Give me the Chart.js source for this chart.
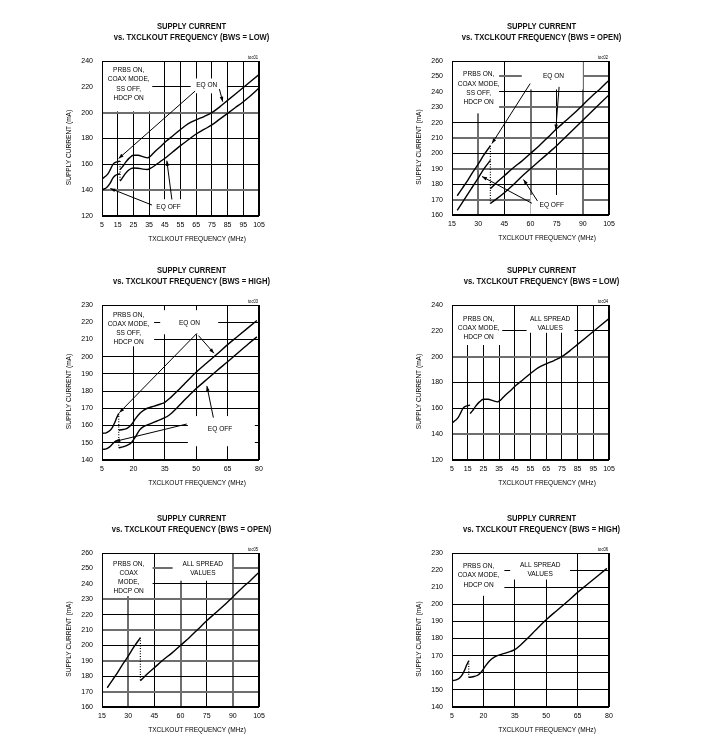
<!DOCTYPE html>
<html><head><meta charset="utf-8">
<script src="https://cdn.jsdelivr.net/npm/chart.js@4.4.0/dist/chart.umd.min.js"></script>
<style>
html,body{margin:0;padding:0;background:#fff;width:713px;height:754px;overflow:hidden;position:relative}
canvas{position:absolute}
</style></head><body>
<script>
// ---------- tick labels ----------
const xTicksLow  = [5, 15, 25, 35, 45, 55, 65, 75, 85, 95, 105];
const yTicksLow  = [120, 140, 160, 180, 200, 220, 240];
const xTicksOpen = [15, 30, 45, 60, 75, 90, 105];
const yTicksOpen = [160, 170, 180, 190, 200, 210, 220, 230, 240, 250, 260];
const xTicksHigh = [5, 20, 35, 50, 65, 80];
const yTicksHigh = [140, 150, 160, 170, 180, 190, 200, 210, 220, 230];

// ---------- BWS = LOW ----------
const lowOnX1  = [5.5, 7, 9, 10.5, 12, 13.5, 15, 16.5];
const lowOnY1  = [149, 150.5, 153, 156.5, 160, 161.5, 162, 162.5];
const lowOnX2  = [16.5, 18, 20, 22.5, 25, 28, 31, 34, 36, 38, 42, 46, 50, 55, 60, 65, 70, 75, 80, 85, 90, 95, 100, 105];
const lowOnY2  = [156, 158, 161.5, 165, 167, 167, 166, 165, 166.5, 169, 173.5, 178, 182, 187, 191.5, 194.5, 197, 200, 204.5, 209.5, 214.5, 219.5, 224.5, 229.5];
const lowOffX1 = [5.5, 8, 10, 12, 13.5, 15, 16.5];
const lowOffY1 = [140.5, 142, 145, 149.5, 151.5, 152.2, 152.6];
const lowOffX2 = [16.5, 18, 20, 22.5, 25, 28, 31, 34, 36, 38, 42, 46, 50, 55, 60, 65, 70, 75, 80, 85, 90, 95, 100, 105];
const lowOffY2 = [147, 149.5, 153, 156, 157.2, 157, 156.3, 156, 157, 158.5, 162, 165.5, 169.5, 174.5, 179, 183.5, 187, 190.5, 195, 199.5, 204, 208.5, 213.5, 219];

// ---------- BWS = OPEN ----------
const openOnX1  = [18, 21, 24, 27, 30, 33, 37];
const openOnY1  = [172.5, 177.5, 182.5, 188, 193, 198.5, 205];
const openOnX2  = [37, 40, 45, 50, 55, 60, 65, 70, 75, 80, 85, 90, 95, 100, 105];
const openOnY2  = [177, 180.5, 185.5, 190.5, 195, 200, 205, 210.5, 216, 221, 226, 231.5, 237, 242, 247.5];
const openOffX1 = [18, 22, 26, 30, 33, 37];
const openOffY1 = [163, 170, 177, 184, 189.5, 195.5];
const openOffX2 = [37, 40, 45, 50, 55, 60, 65, 70, 75, 80, 85, 90, 95, 100, 105];
const openOffY2 = [167.5, 170, 174.5, 179.5, 185, 190, 195, 200, 205, 210.5, 216, 221.5, 227, 232.5, 238];

// ---------- BWS = HIGH ----------
const highOnX1  = [5.5, 7, 8.5, 10, 11, 12, 13];
const highOnY1  = [155.5, 155.8, 156.8, 159, 161.5, 164.5, 167];
const highOnX2  = [13, 15, 17, 19, 21, 23, 25, 27, 30, 33, 35, 38, 41, 45, 50, 55, 60, 65, 70, 75, 79];
const highOnY2  = [157.3, 157.7, 158.4, 160.5, 164, 167, 169, 170.2, 171.3, 172.5, 173.5, 176.5, 180, 185, 191, 196.3, 201.5, 207, 212, 217, 221];
const highOffX1 = [5.5, 7, 8.5, 10, 11.5, 12.8];
const highOffY1 = [146.2, 146.5, 147.5, 149.3, 151, 151.6];
const highOffX2 = [13, 15, 17, 19, 21, 23, 25, 28, 31, 34, 37, 41, 45, 50, 55, 60, 65, 70, 75, 79];
const highOffY2 = [147.1, 147.6, 148.5, 150, 153.5, 157.5, 159.5, 161, 162.5, 164, 166, 170.5, 175.5, 181.5, 186.7, 192, 197, 202.3, 207.5, 211.5];

// ---------- text ----------
const title1 = 'SUPPLY CURRENT';
const xTitle = 'TXCLKOUT FREQUENCY (MHz)';
const yTitle = 'SUPPLY CURRENT (mA)';
const condEq = ['PRBS ON,', 'COAX MODE,', 'SS OFF,', 'HDCP ON'];
const condAll = ['PRBS ON,', 'COAX MODE,', 'HDCP ON'];
const condAllOpen = ['PRBS ON,', 'COAX', 'MODE,', 'HDCP ON'];
const spreadTxt = ['ALL SPREAD', 'VALUES'];

// ---------- font: use a narrow face if installed, else condense Liberation Sans ----------
function detectNarrow() {
  const c = document.createElement('canvas').getContext('2d');
  const s = 'COAX MODE, FREQUENCY 0123';
  c.font = '20px monospace'; const mono = c.measureText(s).width;
  for (const f of ['Liberation Sans Narrow', 'Arial Narrow']) {
    c.font = '20px "' + f + '", monospace';
    if (Math.abs(c.measureText(s).width - mono) > 0.5) return f;
  }
  return null;
}
const NARROW = detectNarrow();
const FONT = NARROW ? '"' + NARROW + '",sans-serif' : '"Liberation Sans",Arial,sans-serif';
const SX = NARROW ? 1 : 0.82;
const TICK_SIZE = NARROW ? 7.5 : 7;

const pts = (xs, ys) => xs.map((x, i) => ({x, y: ys[i]}));
const last = a => a[a.length - 1];
function lineDs(xs, ys) {
  return {data: pts(xs, ys), borderColor: '#000', borderWidth: 1.4, pointRadius: 0,
          showLine: true, cubicInterpolationMode: 'monotone', fill: false};
}
function dotDs(x, y0, y1) {
  return {data: [{x, y: y0}, {x, y: y1}], borderColor: '#000', borderWidth: 1.2,
          borderDash: [1, 1.6], pointRadius: 0, showLine: true, fill: false};
}

function txt(ctx, s, x, y, align, rot) {
  ctx.save();
  ctx.translate(x, y);
  if (rot) ctx.rotate(rot);
  ctx.scale(SX, 1);
  ctx.textAlign = align || 'center';
  ctx.fillText(s, 0, 0);
  ctx.restore();
}

function drawArrow(ctx, x0, y0, x1, y1) {
  ctx.beginPath(); ctx.moveTo(x0, y0); ctx.lineTo(x1, y1); ctx.stroke();
  const a = Math.atan2(y1 - y0, x1 - x0), L = 5, w = 1.8;
  ctx.beginPath(); ctx.moveTo(x1, y1);
  ctx.lineTo(x1 - L * Math.cos(a) + w * Math.sin(a), y1 - L * Math.sin(a) - w * Math.cos(a));
  ctx.lineTo(x1 - L * Math.cos(a) - w * Math.sin(a), y1 - L * Math.sin(a) + w * Math.cos(a));
  ctx.closePath(); ctx.fill();
}

function makeDecor(p) {
  return {
    id: 'decor',
    beforeDatasetsDraw(chart) {
      const {ctx, chartArea: a, scales: {x, y}} = chart;
      ctx.save();
      ctx.beginPath(); ctx.rect(a.left, a.top, a.width, a.height); ctx.clip();
      ctx.fillStyle = '#fff';
      for (const b of p.boxes) {
        const x0 = x.getPixelForValue(b[0]), x1 = x.getPixelForValue(b[1]);
        const y0 = y.getPixelForValue(b[2]), y1 = y.getPixelForValue(b[3]);
        ctx.fillRect(Math.min(x0, x1), Math.min(y0, y1), Math.abs(x1 - x0), Math.abs(y1 - y0));
      }
      ctx.restore();
      ctx.save();
      ctx.strokeStyle = '#000'; ctx.lineWidth = 1;
      ctx.strokeRect(a.left + 0.5, a.top + 0.5, a.width - 1, a.height - 1);
      ctx.restore();
    },
    afterDatasetsDraw(chart) {
      const {ctx, chartArea: a, scales: {x, y}} = chart;
      ctx.save();
      ctx.fillStyle = '#000'; ctx.strokeStyle = '#000'; ctx.lineWidth = 1;
      for (const r of p.arrows) {
        drawArrow(ctx, x.getPixelForValue(r[0]), y.getPixelForValue(r[1]),
                       x.getPixelForValue(r[2]), y.getPixelForValue(r[3]));
      }
      ctx.textBaseline = 'middle';
      ctx.font = '8px ' + FONT;
      for (const t of p.texts) {
        const cx = x.getPixelForValue(t.x), cy = y.getPixelForValue(t.y);
        t.lines.forEach((s, i) => txt(ctx, s, cx, cy + i * 9.2));
      }
      // titles
      const tx = a.left + 89.5;
      ctx.font = 'bold 9.3px ' + FONT; ctx.fillStyle = '#111';
      txt(ctx, title1, tx, a.top - 35);
      txt(ctx, p.title, tx, a.top - 23.5);
      ctx.fillStyle = '#000';
      ctx.font = '8px ' + FONT;
      txt(ctx, xTitle, a.left + 95, a.bottom + 22.5);
      txt(ctx, yTitle, a.left - 33.5, (a.top + a.bottom) / 2 + 9, 'center', -Math.PI / 2);
      ctx.font = '5px ' + FONT; ctx.textBaseline = 'alphabetic';
      txt(ctx, p.toc, a.right - 1, a.top - 2, 'right');
      ctx.restore();
    }
  };
}

function build(p) {
  const [pl, pt, pr, pb] = p.area;
  const W = (pr - pl) + 80, H = (pb - pt) + 80;
  const cv = document.createElement('canvas');
  cv.width = W; cv.height = H;
  cv.style.left = (pl - 50) + 'px'; cv.style.top = (pt - 45) + 'px';
  cv.style.width = W + 'px'; cv.style.height = H + 'px';
  document.body.appendChild(cv);
  const gx = p.grayX || [], gy = p.grayY || [];
  const tickFont = {family: FONT, size: TICK_SIZE};
  new Chart(cv, {
    type: 'scatter',
    data: {datasets: p.datasets},
    options: {
      responsive: false, animation: false,
      layout: {padding: {left: 0, right: 30, top: 45, bottom: 0}},
      plugins: {legend: {display: false}, tooltip: {enabled: false}},
      scales: {
        x: {type: 'linear', min: p.xTicks[0], max: last(p.xTicks),
            afterBuildTicks: s => { s.ticks = p.xTicks.map(v => ({value: v})); },
            afterFit: s => { s.height = 35; },
            ticks: {autoSkip: false, maxRotation: 0, padding: 5, color: '#000', font: tickFont},
            grid: {drawTicks: false,
                   color: c => (c.tick && gx.includes(c.tick.value)) ? '#6e6e6e' : '#000',
                   lineWidth: c => (c.tick && gx.includes(c.tick.value)) ? 2 : 1},
            border: {display: false}},
        y: {type: 'linear', min: p.yTicks[0], max: last(p.yTicks),
            afterBuildTicks: s => { s.ticks = p.yTicks.map(v => ({value: v})); },
            afterFit: s => { s.width = 50; },
            ticks: {autoSkip: false, padding: 9, color: '#000', font: tickFont},
            grid: {drawTicks: false,
                   color: c => (c.tick && gy.includes(c.tick.value)) ? '#6e6e6e' : '#000',
                   lineWidth: c => (c.tick && gy.includes(c.tick.value)) ? 2 : 1},
            border: {display: false}}
      }
    },
    plugins: [makeDecor(p)]
  });
}

// Plot 1: BWS = LOW, EQ on/off
build({
  area: [102, 61, 259, 216], xTicks: xTicksLow, yTicks: yTicksLow, grayY: [140, 200],
  title: 'vs. TXCLKOUT FREQUENCY (BWS = LOW)', toc: 'toc01',
  datasets: [lineDs(lowOnX1, lowOnY1), lineDs(lowOnX2, lowOnY2),
             lineDs(lowOffX1, lowOffY1), lineDs(lowOffX2, lowOffY2),
             dotDs(lowOnX2[0], last(lowOnY1), lowOffY2[0])],
  boxes: [[5, 37, 240, 201], [61.5, 84.5, 226.5, 215], [36, 60, 133, 120]],
  texts: [{x: 22, y: 233, lines: condEq}, {x: 71.7, y: 221.8, lines: ['EQ ON']}, {x: 47.4, y: 126.9, lines: ['EQ OFF']}],
  arrows: [[64.3, 216.7, 15.6, 164.5], [79.8, 218.2, 81.9, 208.5], [36.8, 128.5, 10.3, 141.3], [49.5, 132.8, 46.3, 162.8]]
});

// Plot 2: BWS = OPEN, EQ on/off
build({
  area: [452, 61, 609, 215], xTicks: xTicksOpen, yTicks: yTicksOpen,
  grayX: [30, 60, 90], grayY: [170, 190, 210, 230, 250],
  title: 'vs. TXCLKOUT FREQUENCY (BWS = OPEN)', toc: 'toc02',
  datasets: [lineDs(openOnX1, openOnY1), lineDs(openOnX2, openOnY2),
             lineDs(openOffX1, openOffY1), lineDs(openOffX2, openOffY2),
             dotDs(openOnX2[0], last(openOnY1), openOffY2[0])],
  boxes: [[15, 42, 260, 226], [55, 90, 260, 241.5], [60, 89.5, 173, 160]],
  texts: [{x: 30.3, y: 251.4, lines: condEq}, {x: 73.2, y: 250.3, lines: ['EQ ON']}, {x: 72.2, y: 166.5, lines: ['EQ OFF']}],
  arrows: [[59.8, 245.3, 37.9, 206.4], [76.4, 243.2, 74.5, 215.5], [60.8, 167.6, 32.2, 185], [64, 169.1, 56, 183]]
});

// Plot 3: BWS = HIGH, EQ on/off
build({
  area: [102, 305, 259, 460], xTicks: xTicksHigh, yTicks: yTicksHigh,
  title: 'vs. TXCLKOUT FREQUENCY (BWS = HIGH)', toc: 'toc03',
  datasets: [lineDs(highOnX1, highOnY1), lineDs(highOnX2, highOnY2),
             lineDs(highOffX1, highOffY1), lineDs(highOffX2, highOffY2),
             dotDs(highOnX2[0], last(highOnY1), highOffY2[0])],
  boxes: [[5, 29.9, 230, 206], [32.8, 60.5, 227, 213], [46, 78, 165.5, 148]],
  texts: [{x: 17.7, y: 224.4, lines: condEq}, {x: 46.8, y: 219.4, lines: ['EQ ON']}, {x: 61.4, y: 158, lines: ['EQ OFF']}],
  arrows: [[50.3, 213.5, 13.3, 167.5], [51.1, 212.2, 58.5, 202], [58.2, 164.6, 55.1, 183], [45.5, 160.9, 11.3, 150.8]]
});

// Plot 4: BWS = LOW, all spread values
build({
  area: [452, 305, 609, 460], xTicks: xTicksLow, yTicks: yTicksLow, grayY: [140, 200],
  title: 'vs. TXCLKOUT FREQUENCY (BWS = LOW)', toc: 'toc04',
  datasets: [lineDs(lowOnX1, lowOnY1), lineDs(lowOnX2, lowOnY2)],
  boxes: [[5, 37, 240, 209], [52.5, 83, 240, 218.5]],
  texts: [{x: 22, y: 229.4, lines: condAll}, {x: 67.5, y: 229.4, lines: spreadTxt}],
  arrows: []
});

// Plot 5: BWS = OPEN, all spread values
build({
  area: [102, 553, 259, 707], xTicks: xTicksOpen, yTicks: yTicksOpen,
  grayX: [30, 60, 90], grayY: [170, 190, 210, 230, 250],
  title: 'vs. TXCLKOUT FREQUENCY (BWS = OPEN)', toc: 'toc05',
  datasets: [lineDs(openOnX1, openOnY1), lineDs(openOnX2, openOnY2),
             dotDs(openOnX2[0], last(openOnY1), openOnY2[0])],
  boxes: [[15, 44, 260, 232], [55.5, 89.5, 260, 242]],
  texts: [{x: 30.3, y: 253.3, lines: condAllOpen}, {x: 72.8, y: 253.3, lines: spreadTxt}],
  arrows: []
});

// Plot 6: BWS = HIGH, all spread values
build({
  area: [452, 553, 609, 707], xTicks: xTicksHigh, yTicks: yTicksHigh,
  title: 'vs. TXCLKOUT FREQUENCY (BWS = HIGH)', toc: 'toc06',
  datasets: [lineDs(highOnX1, highOnY1), lineDs(highOnX2, highOnY2),
             dotDs(highOnX2[0], last(highOnY1), highOnY2[0])],
  boxes: [[5, 30, 230, 205], [32.8, 61.4, 230, 214.5]],
  texts: [{x: 17.7, y: 222.4, lines: condAll}, {x: 47.1, y: 223, lines: spreadTxt}],
  arrows: []
});
</script>
</body></html>
